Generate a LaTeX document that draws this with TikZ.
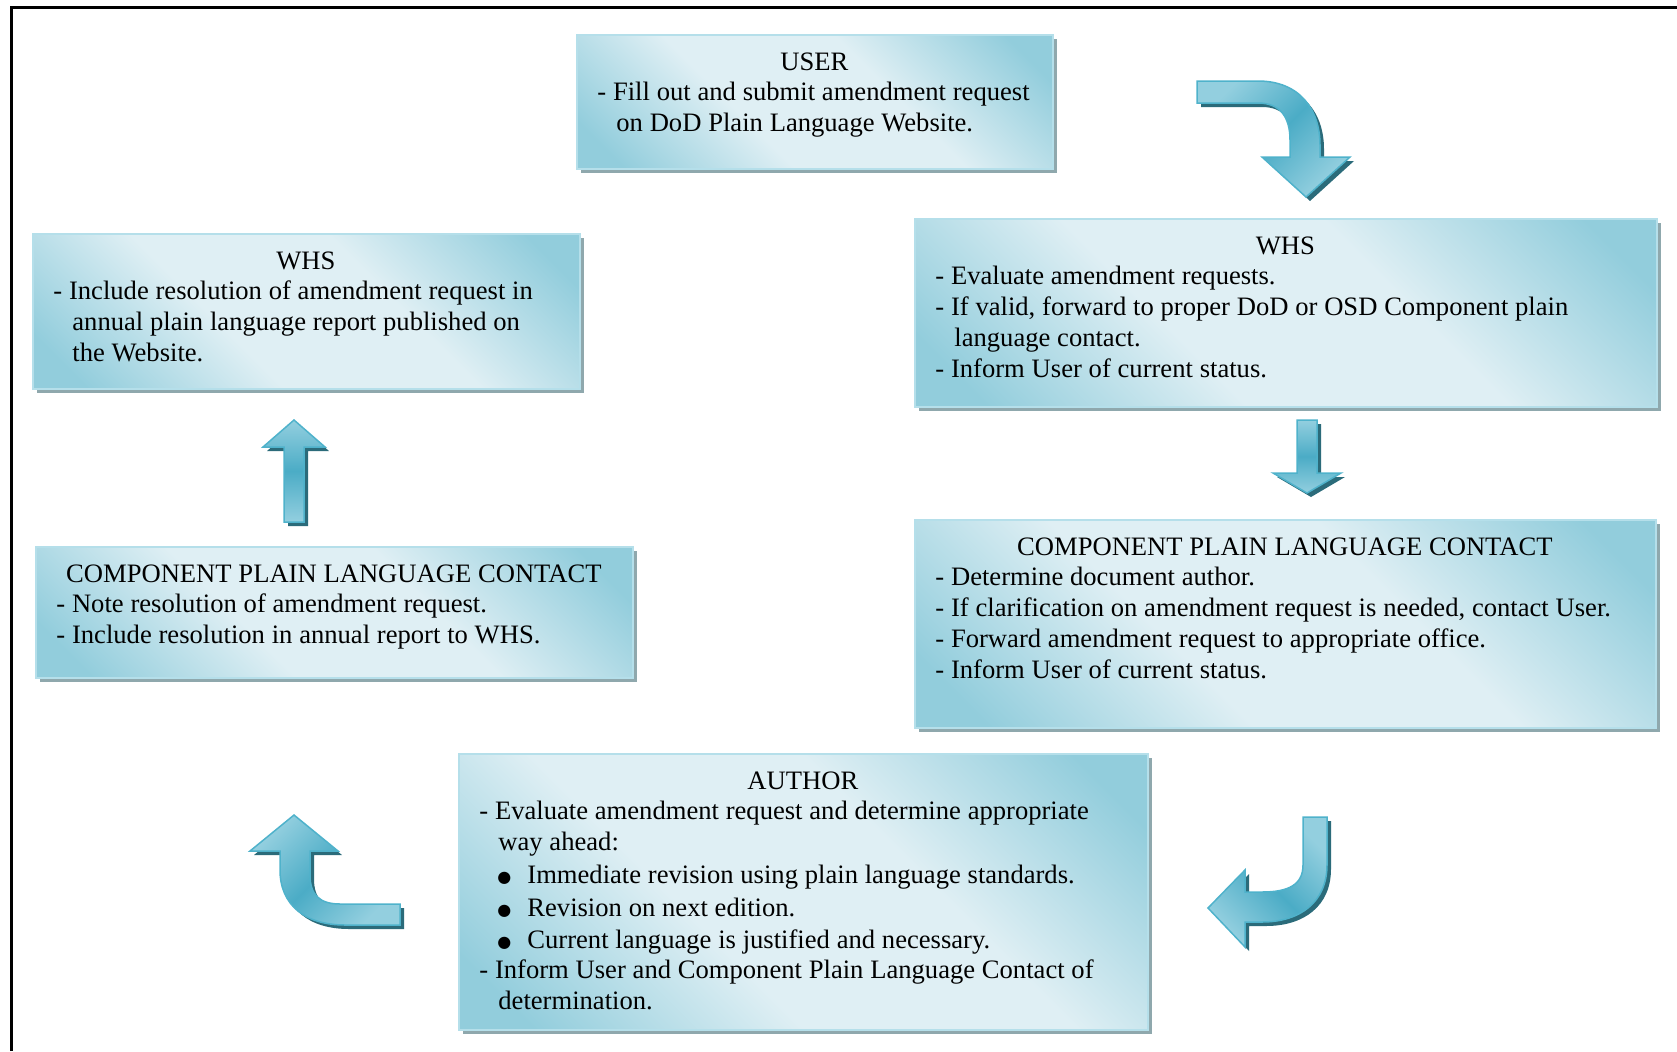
\documentclass[tikz,border=0pt]{standalone}
\usepackage{fontspec}
\setmainfont{Liberation Serif}
\newfontfamily\symfont{DejaVu Sans}
\usetikzlibrary{shadows}
\definecolor{boxlight}{HTML}{DFEFF4}
\definecolor{boxdark}{HTML}{92CDDC}
\definecolor{boxline}{HTML}{B5DFEA}
\definecolor{boxshadow}{HTML}{8FA8AD}
\definecolor{arrowlight}{HTML}{93CFDF}
\definecolor{arrowmid}{HTML}{4BACC6}
\definecolor{arrowline}{HTML}{4FB2CB}
\definecolor{arrowshadow}{HTML}{2B6B7A}
\pgfdeclareverticalshading{boxshade}{100bp}{color(0bp)=(boxdark); color(20bp)=(boxdark);
  color(40bp)=(boxlight); color(60bp)=(boxlight); color(80bp)=(boxdark); color(100bp)=(boxdark)}
\tikzset{
  box/.style = {draw=boxline, line width=1pt, inner sep=0pt,
                shading=boxshade, shading angle=-45,
                general shadow={fill=boxshadow, shadow xshift=2pt, shadow yshift=-2pt}},
  box text/.style = {anchor=north west, inner sep=0pt, align=left,
                     font=\fontsize{13.3pt}{15.4pt}\selectfont},
  arrow shadow/.style = {fill=arrowshadow, shift={(4,4)}},
  arrow body/.style = {draw=arrowline, line width=0.75pt, top color=arrowlight,
                       bottom color=arrowlight, middle color=arrowmid},
  frame line/.style = {line width=1.5pt, black},
}
\newcommand{\stepnode}[6]{%
  %% Draw one step of the procedure:
  %%    1. Name, 2. North west corner, 3. Width, 4. Height,
  %%    5. Text width, 6. Text
  \node [box, anchor=north west, minimum width=#3, minimum height=#4] (#1) at (#2) {};
  \node [box text, text width=#5] (#1_text) at ([shift={(10.5pt,-9pt)}] #1.north west)
    {\frenchspacing\spaceskip=0.255em\relax #6};
}
\newcommand{\blockarrow}[2]{%
  %% Draw a block arrow with its shadow: 1. Shading angle, 2. Outline
  \fill [arrow shadow] #2;
  \path [arrow body, shading angle=#1] #2;
}
\newcommand{\steptitle}[1]{\makebox[\hsize]{#1}}
\newcommand{\cont}{\hspace*{9.5pt}}
\newcommand{\bul}{\hspace*{9pt}\makebox[15pt][l]{\raisebox{0.4pt}{\symfont\fontsize{8pt}{8pt}\selectfont ●}}}

\begin{document}
\begin{tikzpicture}[x=0.5pt, y=-0.5pt]
  \useasboundingbox (0,0) rectangle (1677,1051);

  %% Frame
  \draw [frame line] (11,1051) -- (11,7) -- (1677,7);

  %% The steps
  \stepnode{user}{576,34}{238pt}{67pt}{217pt}{%
    \steptitle{USER}\\
    - Fill out and submit amendment request\\
    \cont on DoD Plain Language Website.}
  \stepnode{whs_right}{914,218}{371pt}{94pt}{350pt}{%
    \steptitle{WHS}\\
    - Evaluate amendment requests.\\
    - If valid, forward to proper DoD or OSD Component plain\\
    \cont language contact.\\
    - Inform User of current status.}
  \stepnode{cplc_right}{914,519}{370.5pt}{104pt}{349.5pt}{%
    \steptitle{COMPONENT PLAIN LANGUAGE CONTACT}\\
    - Determine document author.\\
    - If clarification on amendment request is needed, contact User.\\
    - Forward amendment request to appropriate office.\\
    - Inform User of current status.}
  \stepnode{author}{458,753}{344.5pt}{138pt}{323.5pt}{%
    \steptitle{AUTHOR}\\
    - Evaluate amendment request and determine appropriate\\
    \cont way ahead:\\[1pt]
    \bul Immediate revision using plain language standards.\\[1pt]
    \bul Revision on next edition.\\[0.5pt]
    \bul Current language is justified and necessary.\\
    - Inform User and Component Plain Language Contact of\\
    \cont determination.}
  \stepnode{cplc_left}{35,546}{298.5pt}{65.5pt}{277.5pt}{%
    \steptitle{COMPONENT PLAIN LANGUAGE CONTACT}\\
    - Note resolution of amendment request.\\
    - Include resolution in annual report to WHS.}
  \stepnode{whs_left}{32,233}{273.5pt}{77.5pt}{252.5pt}{%
    \steptitle{WHS}\\
    - Include resolution of amendment request in\\
    \cont annual plain language report published on\\
    \cont the Website.}

  %% Block arrows between the steps
  \blockarrow{45}{(1197,81) -- (1258,81) .. controls (1300,81) and (1320,110) .. (1320,145)
    -- (1320,157) -- (1350,157) -- (1306,197) -- (1262,157) -- (1290,157) -- (1290,140)
    .. controls (1290,117) and (1280,103) .. (1258,103) -- (1197,103) -- cycle}
  \blockarrow{0}{(1297,420) -- (1317,420) -- (1317,473) -- (1341,473) -- (1307,493)
    -- (1273,473) -- (1297,473) -- cycle}
  \blockarrow{-45}{(1303,817) -- (1327,817) -- (1327,865) .. controls (1327,902) and (1300,922) .. (1262,922)
    -- (1245,922) -- (1245,947) -- (1208,908) -- (1245,870) -- (1245,892) -- (1262,892)
    .. controls (1288,892) and (1303,885) .. (1303,865) -- cycle}
  \blockarrow{45}{(400,904) -- (340,904) .. controls (320,904) and (310,895) .. (310,875)
    -- (310,851) -- (338,851) -- (294,815) -- (250,851) -- (280,851) -- (280,870)
    .. controls (280,905) and (305,925) .. (345,925) -- (400,925) -- cycle}
  \blockarrow{0}{(284,522) -- (284,447) -- (263,447) -- (294,420) -- (325,447)
    -- (304,447) -- (304,522) -- cycle}
\end{tikzpicture}
\end{document}
